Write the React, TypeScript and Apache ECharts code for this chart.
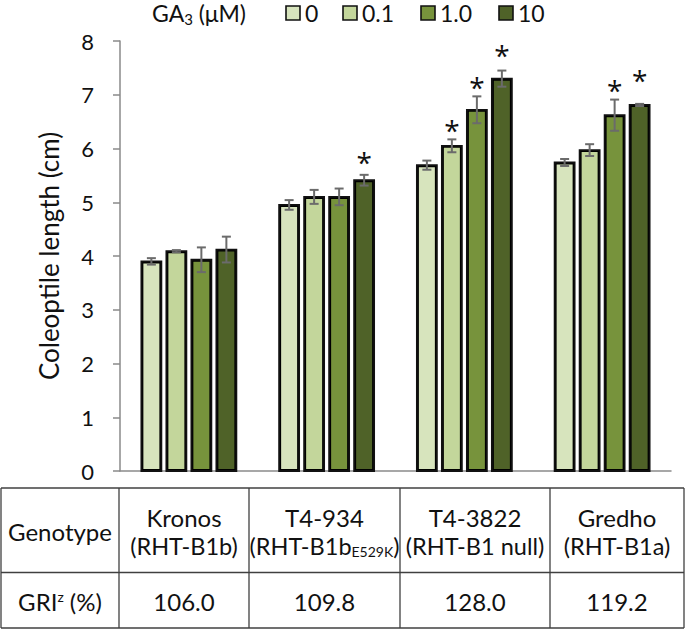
import React, { useEffect, useRef } from "react";
import * as echarts from "echarts";

// ---- Data ----
const categories = ["Kronos", "T4-934", "T4-3822", "Gredho"];
const gaLevels = ["0", "0.1", "1.0", "10"];
const mean0 = [3.9, 4.95, 5.69, 5.74];
const mean01 = [4.09, 5.1, 6.05, 5.97];
const mean10 = [3.93, 5.1, 6.72, 6.62];
const mean100 = [4.12, 5.41, 7.3, 6.81];
const err0 = [0.06, 0.09, 0.085, 0.065];
const err01 = [0.02, 0.13, 0.12, 0.11];
const err10 = [0.23, 0.155, 0.25, 0.29];
const err100 = [0.24, 0.1, 0.15, 0.02];
// star positions (y value in cm) where significant, null otherwise
const star0: (number | null)[] = [null, null, null, null];
const star01: (number | null)[] = [null, null, 6.47, null];
const star10: (number | null)[] = [null, null, 7.27, 7.22];
const star100: (number | null)[] = [null, 5.88, 7.87, 7.41];
const yTicks = [0, 8, 1]; // min, max, interval
const alleleMain = ["RHT-B1b", "RHT-B1b", "RHT-B1 null", "RHT-B1a"];
const alleleSub = ["", "E529K", "", ""];
const griValues = ["106.0", "109.8", "128.0", "119.2"];

const means = [mean0, mean01, mean10, mean100];
const errs = [err0, err01, err10, err100];
const stars = [star0, star01, star10, star100];
const colors = ["#D7E4BD", "#C3D69B", "#77933C", "#4F6228"];

const FONT = "Lato, 'Open Sans', sans-serif";
const FONT2 = "'Open Sans', sans-serif";
const BAR_W = 20;
const BAR_GAP = 5;

export default function App() {
  const ref = useRef<HTMLDivElement>(null);
  useEffect(() => {
    if (!ref.current) return;
    const chart = echarts.init(ref.current, undefined, { renderer: "svg" });

    const barSeries = gaLevels.map((lv, i) => ({
      name: lv,
      type: "bar",
      data: means[i],
      barWidth: BAR_W,
      barGap: "25%",
      itemStyle: { color: colors[i], borderColor: "#000", borderWidth: 2 },
      z: 2,
    }));

    const offsetFor = (i: number) => (i - 1.5) * (BAR_W + BAR_GAP);

    const errSeries = gaLevels.map((lv, i) => ({
      name: "err" + lv,
      type: "custom",
      z: 5,
      data: means[i].map((m, c) => [c, m, errs[i][c]]),
      renderItem: (params: any, api: any) => {
        const c = api.value(0);
        const m = api.value(1);
        const e = api.value(2);
        const top = api.coord([c, m + e]);
        const bot = api.coord([c, m - e]);
        const barTop = api.coord([c, m]);
        const base = api.coord([c, 0]);
        const x = top[0] + offsetFor(i);
        const cap = 4.5;
        const style = { stroke: "#6b6b6b", lineWidth: 2 };
        return {
          type: "group",
          children: [
            {
              type: "rect",
              shape: { x: x - BAR_W / 2, y: barTop[1], width: BAR_W, height: base[1] - barTop[1] },
              style: { fill: "none", stroke: "#111", lineWidth: 1.8 },
            },
            { type: "line", shape: { x1: x, y1: top[1], x2: x, y2: bot[1] }, style },
            { type: "line", shape: { x1: x - cap, y1: top[1], x2: x + cap, y2: top[1] }, style },
            { type: "line", shape: { x1: x - cap, y1: bot[1], x2: x + cap, y2: bot[1] }, style },
          ],
        };
      },
    }));

    const starSeries = gaLevels.map((lv, i) => ({
      name: "star" + lv,
      type: "custom",
      z: 6,
      data: stars[i]
        .map((s, c) => (s == null ? null : [c, s]))
        .filter((d) => d != null),
      renderItem: (params: any, api: any) => {
        const p = api.coord([api.value(0), api.value(1)]);
        return {
          type: "text",
          x: p[0] + offsetFor(i),
          y: p[1] + 7,
          style: {
            text: "*",
            fontSize: 28,
            fontFamily: FONT2,
            fill: "#111",
            align: "center",
            verticalAlign: "middle",
          },
        };
      },
    }));

    // table geometry
    const hLines = [488, 572.5, 628];
    const vLines = [1, 119, 249, 400, 550, 684];
    const lineStyle = { stroke: "#404040", lineWidth: 1.3 };
    const graphics: any[] = [];
    hLines.forEach((y) =>
      graphics.push({ type: "line", shape: { x1: 1, y1: y, x2: 684, y2: y }, style: lineStyle })
    );
    vLines.forEach((x) =>
      graphics.push({ type: "line", shape: { x1: x, y1: 488, x2: x, y2: 628 }, style: lineStyle })
    );
    const txt = (x: number, y: number, text: string, rich?: any, size = 24) => ({
      type: "text",
      x,
      y,
      style: {
        text,
        fontSize: size,
        fontFamily: FONT,
        fill: "#111",
        align: "center",
        verticalAlign: "middle",
        rich,
      },
    });
    graphics.push(txt(60, 531, "Genotype"));
    graphics.push(
      txt(60, 601, "GRI{sup|z} (%)", {
        sup: { fontSize: 14, fontFamily: FONT, fill: "#111", padding: [0, 0, 9, 0] },
      })
    );
    categories.forEach((cat, c) => {
      const cx = (vLines[c + 1] + vLines[c + 2]) / 2;
      graphics.push(txt(cx, 517, cat));
      const s = alleleSub[c]
        ? "(" + alleleMain[c] + "{sub|" + alleleSub[c] + "})"
        : "(" + alleleMain[c] + ")";
      graphics.push(
        txt(
          cx,
          546,
          s,
          { sub: { fontSize: 14, fontFamily: FONT, fill: "#111", padding: [10, 0, 0, 0] } },
          23.5
        )
      );
      graphics.push(txt(cx, 601, griValues[c]));
    });
    // legend title
    graphics.push({
      type: "text",
      x: 152,
      y: 0,
      style: {
        text: "GA{sub|3} (μM)",
        fontSize: 23,
        fontFamily: FONT,
        fill: "#111",
        align: "left",
        verticalAlign: "top",
        rich: { sub: { fontSize: 15, fontFamily: FONT, fill: "#111", padding: [11, 0, 0, 0] } },
      },
    });
    // legend items
    const legendX = [286, 343, 421, 499];
    gaLevels.forEach((lv, i) => {
      graphics.push({
        type: "rect",
        shape: { x: legendX[i], y: 6, width: 14, height: 14 },
        style: { fill: colors[i], stroke: "#111", lineWidth: 1.6 },
      });
      graphics.push({
        type: "text",
        x: legendX[i] + 19,
        y: 0,
        style: {
          text: "{v|" + lv + "}",
          fontSize: 23,
          fontFamily: FONT,
          fill: "#111",
          align: "left",
          verticalAlign: "top",
          rich: { v: { fontSize: 23, fontFamily: FONT, fill: "#111", padding: [1, 0, 0, 0] } },
        },
      });
    });

    chart.setOption({
      animation: false,
      grid: { left: 120, right: 14, top: 41, bottom: 160 },
      xAxis: {
        type: "category",
        data: categories,
        axisLabel: { show: false },
        axisTick: { show: false },
        axisLine: { lineStyle: { color: "#8a8a8a", width: 1.5 } },
      },
      yAxis: {
        type: "value",
        min: yTicks[0],
        max: yTicks[1],
        interval: yTicks[2],
        name: "Coleoptile length (cm)",
        nameLocation: "middle",
        nameGap: 58,
        nameTextStyle: { fontSize: 26, fontFamily: FONT, color: "#111" },
        splitLine: { show: false },
        axisLine: { show: true, lineStyle: { color: "#8a8a8a", width: 1.5 } },
        axisTick: { show: true, length: 7, lineStyle: { color: "#8a8a8a", width: 1.5 } },
        axisLabel: { fontSize: 22, fontFamily: FONT, color: "#111", margin: 26 },
      },
      series: [...barSeries, ...errSeries, ...starSeries],
      graphic: graphics,
    });
    return () => chart.dispose();
  }, []);
  return (
    <div
      ref={ref}
      style={{ position: "absolute", left: 0, top: 0, width: 685, height: 631, background: "#fff" }}
    />
  );
}
